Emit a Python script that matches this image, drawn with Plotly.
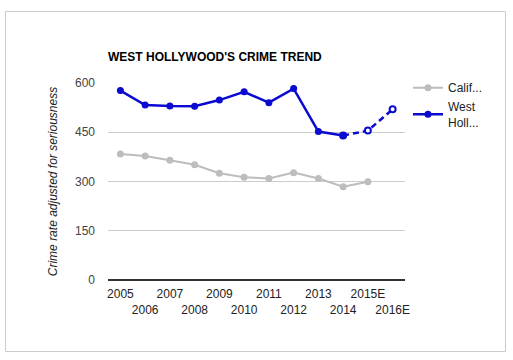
import plotly.graph_objects as go

years = ["2005", "2006", "2007", "2008", "2009", "2010", "2011", "2012", "2013", "2014", "2015E", "2016E"]
west_hollywood = [577, 533, 530, 529, 548, 573, 540, 583, 452, 440, 455, 520]
california = [384, 378, 365, 351, 325, 313, 309, 327, 309, 284, 299, None]
y_ticks = [0, 150, 300, 450, 600]

# staggered tick labels (odd positions on second row)
tick_text = [y if i % 2 == 0 else "<br>" + y for i, y in enumerate(years)]

BLUE = "#0a0ad0"
GRAY = "#bdbdbd"
FONT = "Liberation Sans, Arial, sans-serif"

n_actual = 10  # 2005..2014 actual values

fig = go.Figure()
fig.add_trace(go.Scatter(
    x=years[:11], y=california[:11], mode="lines+markers", name="Calif...",
    line=dict(color=GRAY, width=2), marker=dict(color=GRAY, size=7),
))
fig.add_trace(go.Scatter(
    x=years[:n_actual], y=west_hollywood[:n_actual], mode="lines+markers", name="West<br>Holl...",
    line=dict(color=BLUE, width=2.5), marker=dict(color=BLUE, size=7),
))
fig.add_trace(go.Scatter(
    x=years[n_actual - 1:], y=west_hollywood[n_actual - 1:], mode="lines+markers", showlegend=False,
    line=dict(color=BLUE, width=2.5, dash="6px,4px"),
    marker=dict(color=["rgba(0,0,0,0)", "white", "white"], size=6, line=dict(color=BLUE, width=2)),
))

L, R, T, B = 108, 405, 83, 280
W, H = 513, 360
pw, ph = R - L, B - T

fig.add_shape(type="rect", xref="paper", yref="paper",
              x0=(5.5 - L) / pw, x1=(505.5 - L) / pw,
              y0=(B - 351.5) / ph, y1=(B - 11.5) / ph,
              line=dict(color="#cccccc", width=1), fillcolor="rgba(0,0,0,0)", layer="below")

fig.update_layout(
    width=W, height=H,
    margin=dict(l=L, r=W - R, t=T, b=H - B),
    paper_bgcolor="white", plot_bgcolor="white",
    font=dict(family=FONT, size=12, color="#444444"),
    title=dict(text="<b>WEST HOLLYWOOD'S CRIME TREND</b>", x=L / W, xanchor="left",
               y=1 - 57 / H, yanchor="middle", font=dict(size=12, color="#000000", family=FONT)),
    xaxis=dict(type="category", categoryorder="array", categoryarray=years,
               tickvals=years, ticktext=tick_text, tickangle=0, showgrid=False, ticks="",
               tickfont=dict(size=12, color="#222222"), showline=False, zeroline=False,
               ticklabelstandoff=5, range=[-0.5, len(years) - 0.5]),
    yaxis=dict(range=[0, 600], tickvals=y_ticks, showgrid=True, gridcolor="#cccccc", gridwidth=1,
               zeroline=True, zerolinecolor="#333333", zerolinewidth=1.5,
               tickfont=dict(size=12, color="#444444"), ticks="", ticklabelstandoff=12,
               title=dict(text="<i>Crime rate adjusted for seriousness</i>", standoff=14,
                          font=dict(size=12, color="#222222"))),
    legend=dict(x=1.01, xanchor="left", y=1.05, yanchor="top", font=dict(size=12, color="#222222"),
                bgcolor="rgba(0,0,0,0)", tracegroupgap=2),
    showlegend=True,
)

fig.write_html("out.html", config={"displayModeBar": False},
               post_script="document.body.style.margin='0';")
